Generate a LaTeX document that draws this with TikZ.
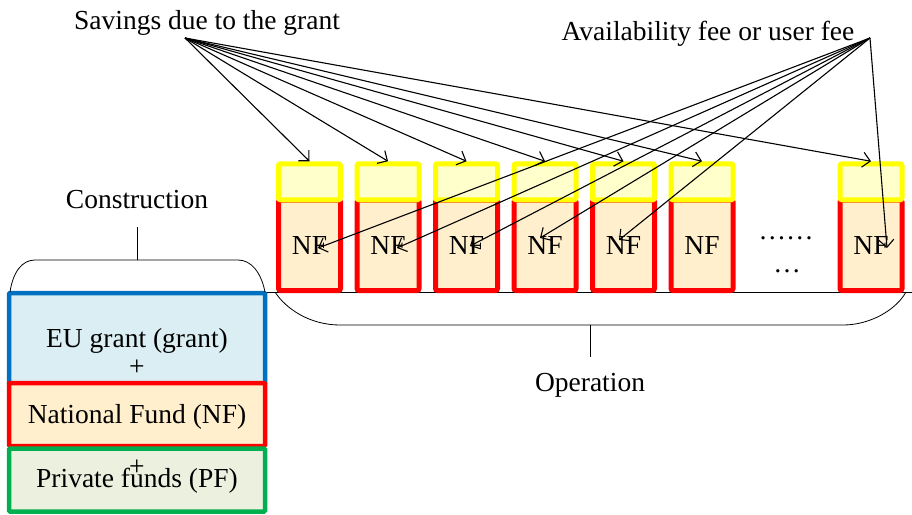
\documentclass[tikz,border=0pt]{standalone}
\usepackage{fontspec}
\setmainfont{Liberation Serif}
\usetikzlibrary{arrows.meta}
\definecolor{myred}{HTML}{FF0000}
\definecolor{myredfill}{HTML}{FFEFCC}
\definecolor{myyel}{HTML}{FFFF00}
\definecolor{myyelfill}{HTML}{FFFFCC}
\definecolor{myblue}{HTML}{0070C0}
\definecolor{mybluefill}{HTML}{DAEEF3}
\definecolor{mygreen}{HTML}{00B050}
\definecolor{mygreenfill}{HTML}{EBF1DE}
\begin{document}
\begin{tikzpicture}[x=1pt,y=-1pt,
  lbl/.style={font=\fontsize{27.5}{33}\selectfont, inner sep=0pt, anchor=base},
  redbox/.style={draw=myred, fill=myredfill, line width=5pt, rounded corners=2pt,
    minimum width=62pt, minimum height=90.5pt, inner sep=0pt, font=\fontsize{27.5}{33}\selectfont},
  yelbox/.style={draw=myyel, fill=myyelfill, line width=5pt, rounded corners=2pt,
    minimum width=62pt, minimum height=36pt, inner sep=0pt},
  stackbox/.style={line width=4.5pt, rounded corners=1pt, minimum width=256pt,
    inner sep=0pt},
  brace/.style={line width=0.8pt, black},
  arr/.style={line width=1.1pt, -{Straight Barb[length=7.5pt,width=15pt]}}
]
\useasboundingbox (0,0) rectangle (912,514);

% base line
\coordinate (lineL) at (265,292);
\coordinate (lineR) at (912,292);
\draw[line width=1pt] (lineL) -- (lineR);

% left stack
\node[stackbox, draw=myblue, fill=mybluefill, minimum height=91pt] (eu) at (137,338.5) {};
\node[stackbox, draw=myred, fill=myredfill, minimum height=63pt] (nfund) at (137,414.5) {};
\node[stackbox, draw=mygreen, fill=mygreenfill, minimum height=63pt] (pf) at (137,480) {};
\node[lbl] (eutext) at (137,347) {EU grant (grant)};
\node[lbl] (plusA) at (137,375) {+};
\node[lbl] (nftext) at (137,423) {National Fund (NF)};
\node[lbl] (plusB) at (137,475) {+};
\node[lbl] (pftext) at (137,487) {Private funds (PF)};

% columns
\foreach \i/\x in {1/309.5,2/388,3/466.5,4/545,5/623.5,6/702,7/871}{
  \node[redbox] (r\i) at (\x,245.25) {NF};
  \node[yelbox] (y\i) at (\x,181.75) {};
}
\node[lbl] (dotsA) at (786,239) {……};
\node[lbl] (dotsB) at (787,272) {…};

% construction brace
\coordinate (cl) at (10,292);
\coordinate (cr) at (265,292);
\coordinate (ctick) at (137,260);
\coordinate (ctop) at (137,227);
\draw[brace] (cl) .. controls (13,272) and (22,260) .. (35,260) -- (238,260)
  .. controls (251,260) and (261,272) .. (cr);
\draw[brace] (ctick) -- (ctop);
\node[lbl] (constr) at (137,208) {Construction};

% operation brace
\coordinate (ol) at (275,292);
\coordinate (or) at (906,292);
\coordinate (otick) at (590,325);
\coordinate (obot) at (590,357);
\draw[brace] (ol) .. controls (286,309) and (310,325) .. (340,325) -- (843,325)
  .. controls (870,325) and (896,310) .. (or);
\draw[brace] (otick) -- (obot);
\node[lbl] (oper) at (590,391) {Operation};

% labels
\node[lbl] (sav) at (207,29) {Savings due to the grant};
\node[lbl] (avail) at (708,40) {Availability fee or user fee};
\coordinate (savO) at (185,38);
\coordinate (avO) at (870,38);

% savings arrows
\foreach \i in {1,...,7}{
  \draw[arr] (savO) -- (y\i.north);
}

% availability arrows
\coordinate (t1) at (318,248);
\coordinate (t2) at (397,248);
\coordinate (t3) at (470,246);
\coordinate (t4) at (540,238);
\coordinate (t5) at (619,240);
\coordinate (t7) at (887,248);
\foreach \t in {t1,t2,t3,t4,t5,t7}{
  \draw[arr] (avO) -- (\t);
}
\end{tikzpicture}
\end{document}
